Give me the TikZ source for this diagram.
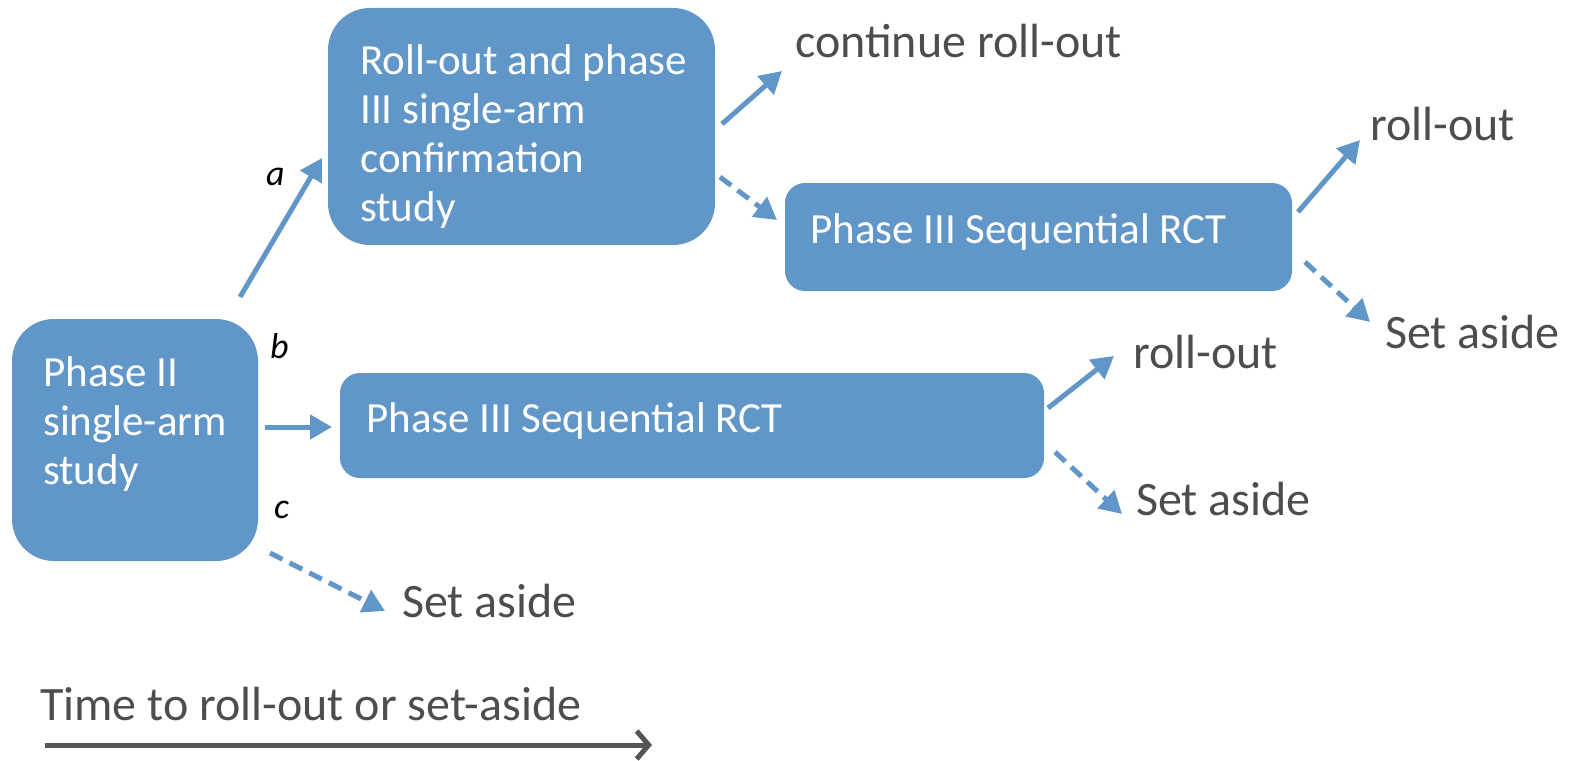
\documentclass[tikz,border=0pt]{standalone}
\usepackage{fontspec}
\setmainfont{Carlito}
\usetikzlibrary{arrows.meta}
\definecolor{boxblue}{HTML}{6196C9}
\definecolor{txtgray}{HTML}{4D4D4D}
\definecolor{axisgray}{HTML}{555555}
\begin{document}
\begin{tikzpicture}[x=1pt,y=-1pt,
  bigbox/.style={fill=boxblue, draw=none, rectangle, rounded corners=42pt, inner sep=0pt},
  smallbox/.style={fill=boxblue, draw=none, rectangle, rounded corners=20pt, inner sep=0pt},
  intext/.style={text=white, inner sep=0pt, align=left, font=\fontsize{43}{49}\selectfont},
  lbl/.style={text=txtgray, inner sep=0pt, anchor=base west, font=\fontsize{48}{55}\selectfont},
  letter/.style={text=black, inner sep=0pt, anchor=base west, font=\fontsize{36}{40}\selectfont\itshape},
  conn/.style={draw=boxblue, line width=5pt, -{Triangle[length=22pt,width=24pt]}},
  dconn/.style={conn, dash pattern=on 14pt off 8pt}
]
\useasboundingbox (0,0) rectangle (1570,760);

% boxes
\node[bigbox, minimum width=387pt, minimum height=237pt] (A) at (521.5,126.5) {};
\node[smallbox, minimum width=507pt, minimum height=108pt] (B) at (1038.5,237) {};
\node[bigbox, minimum width=246pt, minimum height=242pt] (C) at (135,440) {};
\node[smallbox, minimum width=704pt, minimum height=105pt] (D) at (692,425.5) {};

% box texts
\node[intext, anchor=west] (tA) at (360,137) {Roll-out and phase\\III single-arm\\confirmation\\study};
\node[intext, anchor=base west] (tB) at (810,243) {Phase III Sequential RCT};
\node[intext, anchor=west] (tC) at (43,424) {Phase II\\single-arm\\study};
\node[intext, anchor=base west] (tD) at (366,432) {Phase III Sequential RCT};

% labels
\node[lbl] (cont) at (795,58) {continue roll-out};
\node[lbl] (ro1) at (1370,140) {roll-out};
\node[lbl] (sa1) at (1385,348) {Set aside};
\node[lbl] (ro2) at (1133,368) {roll-out};
\node[lbl] (sa2) at (1136,515) {Set aside};
\node[lbl] (sa3) at (402,617) {Set aside};
\node[lbl] (time) at (40,720) {Time to roll-out or set-aside};
\node[letter] (la) at (266,185) {a};
\node[letter] (lb) at (270,358) {b};
\node[letter] (lc) at (274,518) {c};

% connector end points
\coordinate (a0) at (240,297);  \coordinate (a1) at (322,158);
\coordinate (b0) at (265,427);  \coordinate (b1) at (332,427);
\coordinate (c0) at (270,553);  \coordinate (c1) at (385,611);
\coordinate (A0) at (722,124);  \coordinate (A1) at (782,71);
\coordinate (A2) at (720,177);  \coordinate (A3) at (777,220);
\coordinate (B0) at (1298,212); \coordinate (B1) at (1360,140);
\coordinate (B2) at (1305,262); \coordinate (B3) at (1370,322);
\coordinate (D0) at (1048,408); \coordinate (D1) at (1114,356);
\coordinate (D2) at (1055,452); \coordinate (D3) at (1122,514);
\coordinate (t0) at (45,745);   \coordinate (t1) at (652,745);

\draw[conn] (a0) -- (a1);
\draw[conn] (b0) -- (b1);
\draw[dconn] (c0) -- (c1);
\draw[conn] (A0) -- (A1);
\draw[dconn] (A2) -- (A3);
\draw[conn] (B0) -- (B1);
\draw[dconn] (B2) -- (B3);
\draw[conn] (D0) -- (D1);
\draw[dconn] (D2) -- (D3);
\draw[draw=axisgray, line width=5pt, -{Straight Barb[length=12pt,width=28pt,line width=5pt]}] (t0) -- (t1);
\end{tikzpicture}
\end{document}
